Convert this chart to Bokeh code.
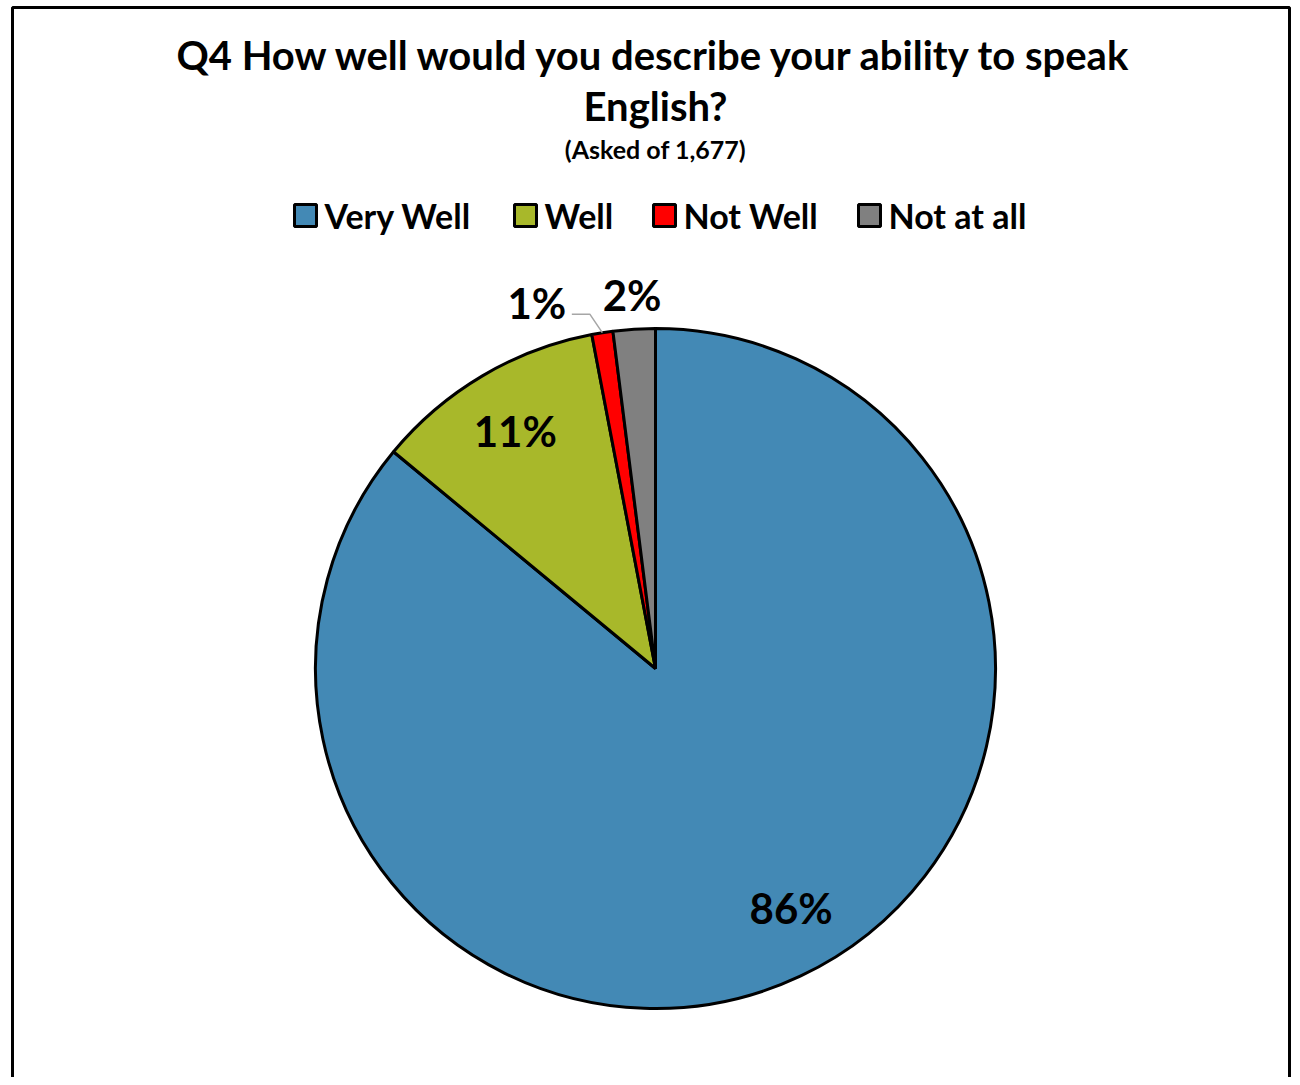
import numpy as np
from bokeh.plotting import figure
from bokeh.models import Range1d, ColumnDataSource
from bokeh.core.properties import value
from bokeh.embed import file_html
from bokeh.resources import INLINE

# ---- data ----
categories = ["Very Well", "Well", "Not Well", "Not at all"]
percents = [86, 11, 1, 2]
colors = ["#4389B5", "#A8B82A", "#FF0000", "#808080"]
title_lines = ["Q4 How well would you describe your ability to speak", "English?"]
subtitle = "(Asked of 1,677)"

FONT = "Lato"

W, H = 1292, 1077
p = figure(width=W, height=H, x_range=Range1d(0, W), y_range=Range1d(-H, 0),
           output_backend="svg", toolbar_location=None, min_border=0,
           x_axis_type=None, y_axis_type=None)
p.grid.visible = False
p.outline_line_color = None
p.background_fill_color = "white"
p.border_fill_color = "white"

# chart border
p.line(x=[12, 12, 1289, 1289], y=[-1090, -7, -7, -1090], line_color="black", line_width=3)

# title
p.text(x=[655, 655], y=[-54, -105], text=title_lines, text_font=value(FONT), text_font_style="bold",
       text_font_size=value("40px"), text_align="center", text_baseline="middle", text_color="black")
p.text(x=[655], y=[-148], text=[subtitle], text_font=value(FONT), text_font_style="bold",
       text_font_size=value("25px"), text_align="center", text_baseline="middle", text_color="black")

# legend (manual)
leg_x = [305, 525, 664, 869]
leg_y = -215
p.rect(x=leg_x, y=[leg_y] * 4, width=22, height=22, fill_color=colors, line_color="black", line_width=3)
p.text(x=[x + 19 for x in leg_x], y=[leg_y] * 4, text=categories, text_font=value(FONT), text_font_style="bold",
       text_font_size=value("34px"), text_align="left", text_baseline="middle", text_color="black")

# pie
cx, cy, R = 655, -668, 340
frac = np.array(percents, dtype=float) / sum(percents)
cum = np.cumsum(frac)
start = np.pi / 2 - 2 * np.pi * (cum - frac)
end = np.pi / 2 - 2 * np.pi * cum
src = ColumnDataSource(dict(start=start, end=end, color=colors, cat=categories))
p.wedge(x=cx, y=cy, radius=R, start_angle="start", end_angle="end", direction="clock",
        fill_color="color", line_color="black", line_width=3, source=src)

# labels
mid = np.pi / 2 - 2 * np.pi * (cum - frac / 2)
labels = [f"{v}%" for v in percents]
lx, ly = [], []
for i, f in enumerate(frac):
    if f > 0.5:
        r, a = 0.81 * R, mid[i] + np.radians(4.3)
    elif f > 0.05:
        r, a = 0.81 * R, mid[i]
    elif i == 2:
        r, a = 1.13 * R, mid[i] + np.radians(9)
    else:
        r, a = 1.10 * R, mid[i]
    lx.append(cx + r * np.cos(a))
    ly.append(cy + r * np.sin(a))

# leader line for the 1% slice
a = mid[2]
ex, ey = cx + R * np.cos(a), cy + R * np.sin(a)
bx, by = cx + 1.06 * R * np.cos(a + np.radians(1.5)), cy + 1.06 * R * np.sin(a + np.radians(1.5))
p.line(x=[bx - 18, bx, ex], y=[by, by, ey], line_color="#A6A6A6", line_width=1.5)

p.text(x=lx, y=ly, text=labels, text_font=value(FONT), text_font_style="bold",
       text_font_size=value("42px"), text_align="center", text_baseline="middle", text_color="black")

open("out.html", "w").write(file_html(p, INLINE))
